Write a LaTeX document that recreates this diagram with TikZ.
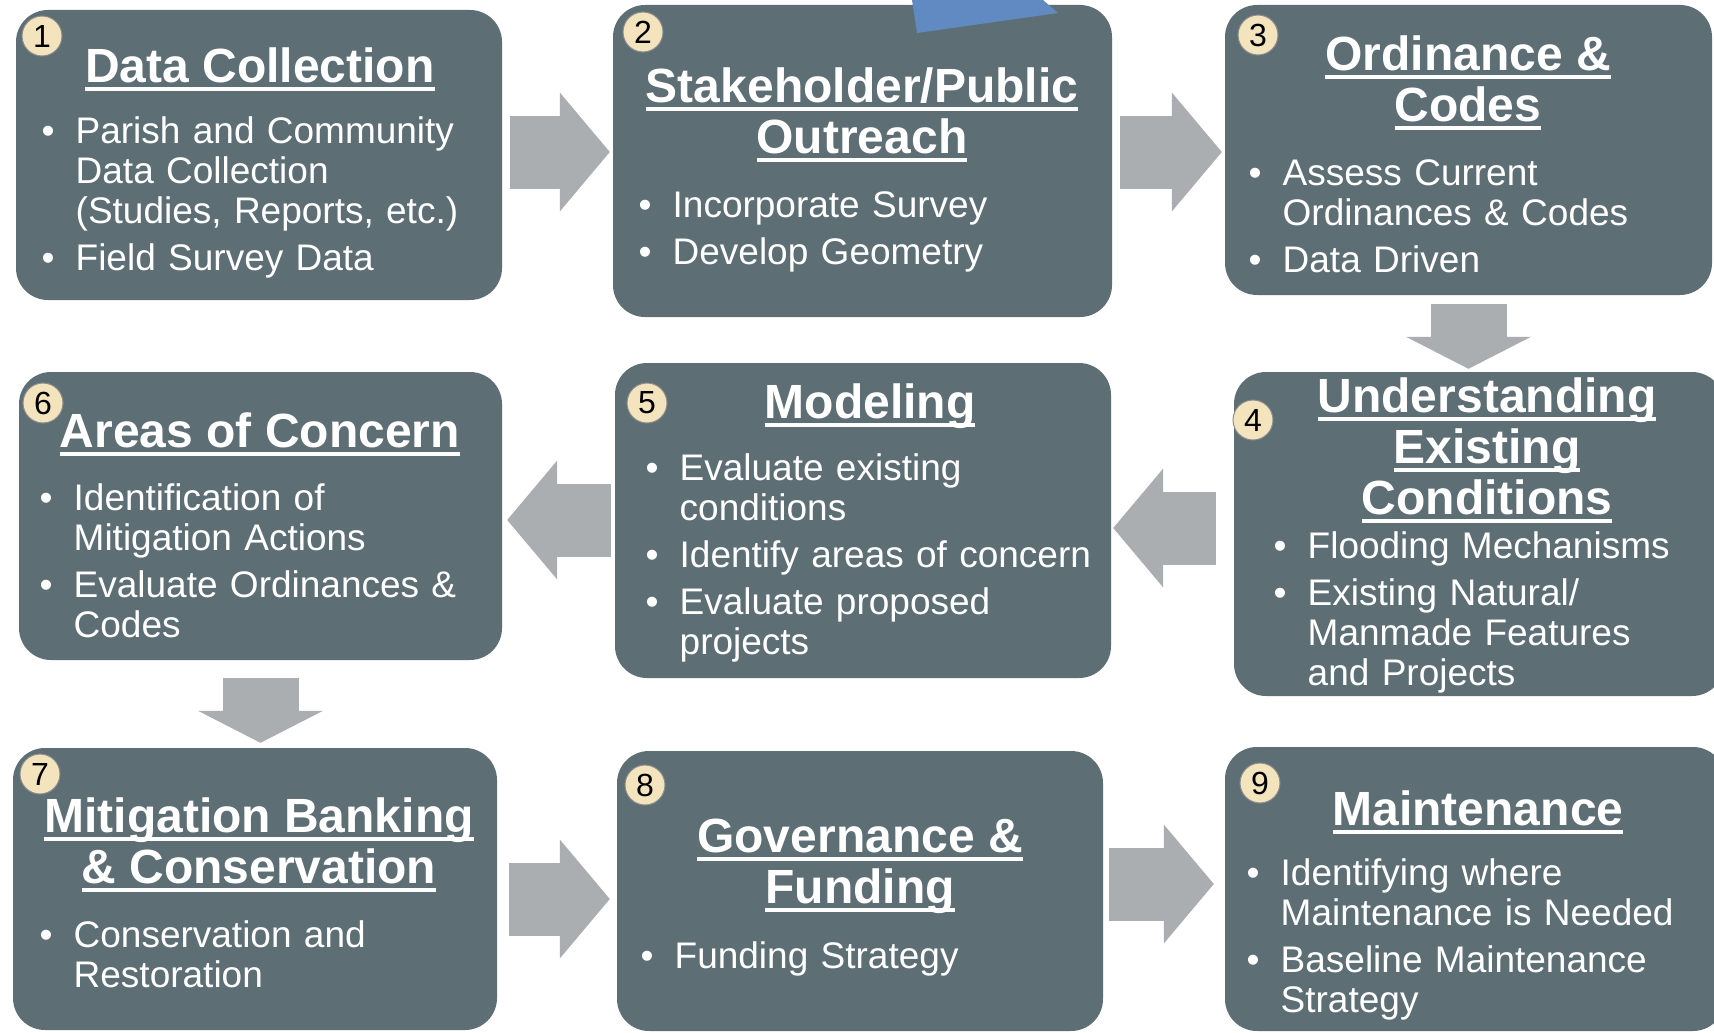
\documentclass[tikz,border=0pt]{standalone}
\usepackage{fontspec}
\setmainfont{Liberation Sans}
\usepackage{xcolor}
\usetikzlibrary{arrows.meta}
\definecolor{boxgray}{RGB}{94,110,117}
\definecolor{arrowgray}{RGB}{171,174,177}
\definecolor{dotcream}{RGB}{243,228,190}
\definecolor{shapeblue}{RGB}{98,138,194}
\newlength{\ulw}
\newcommand{\uln}[1]{\settowidth{\ulw}{#1}\rlap{\rule[-9pt]{\ulw}{4pt}}#1}
\newcommand{\tstrut}{\rule{0pt}{36pt}}
\newcommand{\itm}[1]{\setlength{\parskip}{7pt}\hangindent=34pt\hangafter=1\noindent\rule{0pt}{28pt}\makebox[34pt][l]{\textbullet}#1\par}

\begin{document}
\begin{tikzpicture}[x=1pt, y=-1pt,
    panel/.style={rectangle, rounded corners=32pt, fill=boxgray, inner sep=0pt},
    heading/.style={anchor=north, align=center, inner sep=0pt, text=white, font=\fontsize{48}{51}\selectfont\bfseries},
    points/.style={anchor=north west, text width=470pt, inner sep=0pt, text=white, font=\fontsize{37}{40}\selectfont},
    numdot/.style={circle, fill=dotcream, draw=black!45, line width=1pt, minimum size=40pt, inner sep=0pt, font=\fontsize{32}{32}\selectfont},
    flowright/.style={arrowgray, line width=73pt, -{Triangle[length=50pt, width=119pt, line width=0pt]}},
    flowdown/.style={arrowgray, line width=76pt, -{Triangle[length=32pt, width=125pt, line width=0pt]}}]
    \useasboundingbox (0,0) rectangle (1714,1033);
    \clip (0,0) rectangle (1714,1033);
    \fill[white] (0,0) rectangle (1714,1033);

    \node[panel, minimum width=486pt, minimum height=290pt] (b1) at (259,155) {};
    \node[panel, minimum width=499pt, minimum height=312pt] (b2) at (862.5,161) {};
    \node[panel, minimum width=487pt, minimum height=290pt] (b3) at (1468.5,150) {};
    \node[panel, minimum width=490pt, minimum height=324pt] (b4) at (1479,534) {};
    \node[panel, minimum width=496pt, minimum height=315pt] (b5) at (863,520.5) {};
    \node[panel, minimum width=483pt, minimum height=288pt] (b6) at (260.5,516) {};
    \node[panel, minimum width=484pt, minimum height=282pt] (b7) at (255,889) {};
    \node[panel, minimum width=486pt, minimum height=280pt] (b8) at (860,891) {};
    \node[panel, minimum width=500pt, minimum height=284pt] (b9) at (1475,889) {};

    \fill[shapeblue] (912,0) -- (917,33) -- (1058,13) -- (1043,0) -- cycle;

    \draw[flowright, shorten <=8pt, shorten >=3pt] (b1.east |- 0,152) -- (b2.west |- 0,152);
    \draw[flowright, shorten <=8pt, shorten >=3pt] (b2.east |- 0,152) -- (b3.west |- 0,152);
    \draw[flowdown, shorten <=9pt, shorten >=3pt] (b3.south) -- (b3.south |- b4.north);
    \draw[flowright, shorten <=18pt, shorten >=2pt] (b4.west |- 0,528) -- (b5.east |- 0,528);
    \draw[flowright, shorten <=4pt, shorten >=5pt] (b5.west |- 0,520) -- (b6.east |- 0,520);
    \draw[flowdown, shorten <=18pt, shorten >=5pt] (b6.south) -- (b6.south |- b7.north);
    \draw[flowright, shorten <=12pt, shorten >=7pt] (b7.east |- 0,899) -- (b8.west |- 0,899);
    \draw[flowright, shorten <=6pt, shorten >=11pt] (b8.east |- 0,884) -- (b9.west |- 0,884);

    \node[heading] (t1) at (260,46) {\tstrut\uln{Data Collection}};
    \node[heading] (t2) at (862,66) {\tstrut\uln{Stakeholder/Public}\\\uln{Outreach}};
    \node[heading] (t3) at (1468,34) {\tstrut\uln{Ordinance \&}\\\uln{Codes}};
    \node[heading] (t4) at (1487,376) {\tstrut\uln{Understanding}\\\uln{Existing}\\\uln{Conditions}};
    \node[heading] (t5) at (870,382) {\tstrut\uln{Modeling}};
    \node[heading] (t6) at (260,411) {\tstrut\uln{Areas of Concern}};
    \node[heading] (t7) at (259,796) {\tstrut\uln{Mitigation Banking}\\\uln{\& Conservation}};
    \node[heading] (t8) at (860,816) {\tstrut\uln{Governance \&}\\\uln{Funding}};
    \node[heading] (t9) at (1478,789) {\tstrut\uln{Maintenance}};

    \node[points] (l1) at (41.5,115) {\itm{Parish and Community\newline Data Collection\newline (Studies, Reports, etc.)}\itm{Field Survey Data}};
    \node[points] (l2) at (638.5,189) {\itm{Incorporate Survey}\itm{Develop Geometry}};
    \node[points] (l3) at (1248.5,157) {\itm{Assess Current\newline Ordinances \& Codes}\itm{Data Driven}};
    \node[points] (l4) at (1273.5,530) {\itm{Flooding Mechanisms}\itm{Existing Natural/\newline Manmade Features\newline and Projects}};
    \node[points] (l5) at (645.5,452) {\itm{Evaluate existing\newline conditions}\itm{Identify areas of concern}\itm{Evaluate proposed\newline projects}};
    \node[points] (l6) at (39.5,482) {\itm{Identification of\newline Mitigation Actions}\itm{Evaluate Ordinances \&\newline Codes}};
    \node[points] (l7) at (39.5,919) {\itm{Conservation and\newline Restoration}};
    \node[points] (l8) at (640.5,940) {\itm{Funding Strategy}};
    \node[points] (l9) at (1246.5,857) {\itm{Identifying where\newline Maintenance is Needed}\itm{Baseline Maintenance\newline Strategy}};

    \node[numdot] (n1) at (42,36) {1};
    \node[numdot] (n2) at (643,32) {2};
    \node[numdot] (n3) at (1258,35) {3};
    \node[numdot] (n4) at (1253,420) {4};
    \node[numdot] (n5) at (647,403) {5};
    \node[numdot] (n6) at (43,403) {6};
    \node[numdot] (n7) at (40,774) {7};
    \node[numdot] (n8) at (645,785) {8};
    \node[numdot] (n9) at (1260,783) {9};
\end{tikzpicture}
\end{document}
